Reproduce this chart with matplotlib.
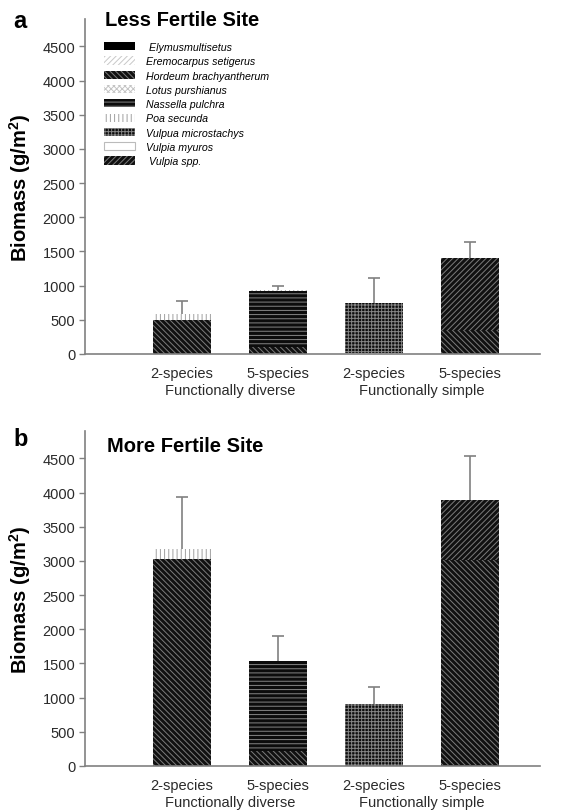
import numpy as np
import matplotlib
matplotlib.use('Agg')
import matplotlib.pyplot as plt
from matplotlib.patches import Patch

plt.rcParams['font.family'] = ['Liberation Sans', 'DejaVu Sans']
plt.rcParams['mathtext.fontset'] = 'custom'
plt.rcParams['mathtext.rm'] = 'Liberation Sans'
plt.rcParams['mathtext.bf'] = 'Liberation Sans:bold'
plt.rcParams['hatch.linewidth'] = 0.7

# treatments on the x axis
treatments = ['2-species', '5-species', '2-species', '5-species']
groups = ['Functionally diverse', 'Functionally simple']

species = ['Elymusmultisetus', 'Eremocarpus setigerus', 'Hordeum brachyantherum',
           'Lotus purshianus', 'Nassella pulchra', 'Poa secunda',
           'Vulpua microstachys', 'Vulpia myuros', 'Vulpia spp.']
legend_labels = [' Elymusmultisetus', 'Eremocarpus setigerus', 'Hordeum brachyantherum',
                 'Lotus purshianus', 'Nassella pulchra', 'Poa secunda',
                 'Vulpua microstachys', 'Vulpia myuros', ' Vulpia spp.']

# biomass (g/m2) per species, stacked in legend order
less_fertile = {
    'Elymusmultisetus':       [0, 0, 0, 0],
    'Eremocarpus setigerus':  [0, 0, 0, 0],
    'Hordeum brachyantherum': [497, 107, 0, 341],
    'Lotus purshianus':       [0, 0, 20, 0],
    'Nassella pulchra':       [0, 809, 0, 0],
    'Poa secunda':            [83, 24, 0, 0],
    'Vulpua microstachys':    [0, 0, 721, 0],
    'Vulpia myuros':          [0, 0, 0, 0],
    'Vulpia spp.':            [0, 0, 0, 1058],
}
less_fertile_se = [190, 50, 366, 234]

more_fertile = {
    'Elymusmultisetus':       [0, 0, 0, 15],
    'Eremocarpus setigerus':  [0, 0, 0, 0],
    'Hordeum brachyantherum': [3032, 214, 0, 2993],
    'Lotus purshianus':       [0, 0, 0, 0],
    'Nassella pulchra':       [0, 1327, 0, 0],
    'Poa secunda':            [136, 0, 0, 0],
    'Vulpua microstachys':    [0, 0, 908, 0],
    'Vulpia myuros':          [0, 0, 0, 0],
    'Vulpia spp.':            [0, 0, 0, 889],
}
more_fertile_se = [763, 364, 254, 641]

# fill, hatch, hatch colour
styles = {
    'Elymusmultisetus':       ('black', None, 'black'),
    'Eremocarpus setigerus':  ('white', '//////', '#c8c8c8'),
    'Hordeum brachyantherum': ('#111111', '\\\\\\\\\\\\', '#7c7c7c'),
    'Lotus purshianus':       ('white', 'xxxxxx', '#c4c4c4'),
    'Nassella pulchra':       ('#0c0c0c', '----', '#858585'),
    'Poa secunda':            ('white', '||||', '#a0a0a0'),
    'Vulpua microstachys':    ('#0c0c0c', '+++++', '#858585'),
    'Vulpia myuros':          ('white', None, '#bbbbbb'),
    'Vulpia spp.':            ('#111111', '//////', '#7c7c7c'),
}

x = np.arange(1, 5)
W, H = 561, 812
fig = plt.figure(figsize=(W / 100, H / 100), dpi=100)
ax1 = fig.add_axes([85 / W, 1 - 355 / H, 455 / W, 335 / H])
ax2 = fig.add_axes([85 / W, 1 - 767 / H, 455 / W, 335 / H])

grey = '#808080'


def draw_panel(ax, data, se):
    bottom = np.zeros(4)
    for sp in species:
        vals = np.array(data[sp], dtype=float)
        if vals.sum() == 0:
            continue
        fc, hatch, hc = styles[sp]
        ax.bar(x, vals, width=0.6, bottom=bottom, color=fc, edgecolor=hc,
               hatch=hatch, linewidth=0, zorder=2)
        bottom += vals
    tops = bottom + np.array(se)
    ax.vlines(x, bottom, tops, color=grey, lw=1.2, zorder=1)
    ax.hlines(tops, x - 0.065, x + 0.065, color=grey, lw=1.2, zorder=1)

    ax.set_xlim(-0.01, 4.73)
    ax.set_ylim(0, 4900)
    ax.set_yticks(np.arange(0, 4501, 500))
    for s in ['top', 'right']:
        ax.spines[s].set_visible(False)
    for s in ['left', 'bottom']:
        ax.spines[s].set_color(grey)
        ax.spines[s].set_linewidth(1.2)
    ax.tick_params(axis='y', direction='out', length=4, width=1, color=grey,
                   labelsize=10.5, labelcolor='#2a2a2a', pad=3)
    ax.set_xticks(x, treatments)
    ax.tick_params(axis='x', length=0, labelsize=10.5, labelcolor='#2a2a2a', pad=9)
    for i, g in enumerate(groups):
        ax.text(1.5 + 2 * i, -0.108, g, transform=ax.get_xaxis_transform(),
                ha='center', va='center', fontsize=10.5, color='#2a2a2a')
    ax.set_ylabel(r'Biomass (g/m$^\mathbf{2}$)', fontsize=14.5, fontweight='bold')
    ax.yaxis.set_label_coords(-0.114, 0.5)


draw_panel(ax1, less_fertile, less_fertile_se)
draw_panel(ax2, more_fertile, more_fertile_se)

fig.text(13 / W, 1 - 21 / H, 'a', fontsize=17, fontweight='bold', va='center')
fig.text(105 / W, 1 - 20 / H, 'Less Fertile Site', fontsize=14.5, fontweight='bold', va='center')
fig.text(13 / W, 1 - 440 / H, 'b', fontsize=17, fontweight='bold', va='center')
fig.text(107 / W, 1 - 446 / H, 'More Fertile Site', fontsize=14.5, fontweight='bold', va='center')

handles = []
for sp in species:
    fc, hatch, hc = styles[sp]
    lw = 0.8 if sp == 'Vulpia myuros' else 0
    handles.append(Patch(facecolor=fc, edgecolor=hc, hatch=hatch, linewidth=lw))
ax1.legend(handles, legend_labels, loc='upper left',
           bbox_to_anchor=(104 / W, 1 - 43 / H), bbox_transform=fig.transFigure,
           frameon=False, borderpad=0, borderaxespad=0,
           handlelength=2.9, handleheight=0.8, labelspacing=0.4, handletextpad=1.0,
           prop={'size': 7.7, 'style': 'italic'})

fig.savefig('out.png', dpi=100)
